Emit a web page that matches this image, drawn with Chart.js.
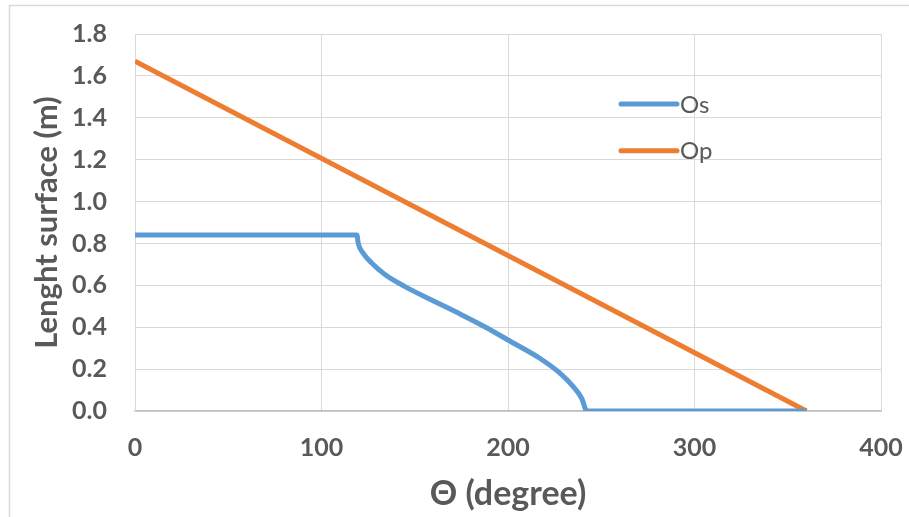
<!DOCTYPE html>
<html>
<head>
<meta charset="utf-8">
<script src="https://cdn.jsdelivr.net/npm/chart.js@4/dist/chart.umd.min.js"></script>
<style>
  html, body { margin: 0; padding: 0; background: #ffffff; overflow: hidden; }
  #wrap { position: relative; width: 909px; height: 517px; }
  canvas { display: block; }
</style>
</head>
<body>
<div id="wrap"><canvas id="c" width="909" height="517"></canvas></div>
<script>
// ---- data ----
const seriesNames = ["Os", "Op"];
const osTheta  = [0, 119, 119.7, 122.4, 126.9, 134, 144.8, 159, 175, 188, 200, 217, 228, 235, 239.5, 242.3, 360];
const osLength = [0.84, 0.84, 0.80, 0.753, 0.707, 0.652, 0.594, 0.53, 0.46, 0.40, 0.339, 0.252, 0.18, 0.116, 0.061, 0, 0];
const opTheta  = [0, 360];
const opLength = [1.67, 0];
const xTicks = [0, 100, 200, 300, 400];
const yTicks = [0, 0.2, 0.4, 0.6, 0.8, 1.0, 1.2, 1.4, 1.6, 1.8];
const xTitle = "Θ (degree)";
const yTitle = "Lenght surface (m)";
const colors = ["#5B9BD5", "#ED7D31"];

const toPts = (xs, ys) => xs.map((x, i) => ({ x: x, y: ys[i] }));

const TEXT = "#595959";
const GRID = "#d9d9d9";
const FONT = "Lato, 'Open Sans', sans-serif";

// legend drawn inside the plot area
const insideLegend = {
  id: "insideLegend",
  afterDraw(chart) {
    const ctx = chart.ctx;
    ctx.save();
    chart.data.datasets.forEach((ds, i) => {
      const y = 104 + i * 46.7;
      ctx.strokeStyle = ds.borderColor;
      ctx.lineWidth = 5;
      ctx.lineCap = "round";
      ctx.beginPath();
      ctx.moveTo(621, y);
      ctx.lineTo(677, y);
      ctx.stroke();
      ctx.fillStyle = TEXT;
      ctx.font = "24px " + FONT;
      ctx.textAlign = "left";
      ctx.textBaseline = "middle";
      ctx.fillText(ds.label, 680, y + 1);
    });
    ctx.restore();
  }
};

// outer light-grey frame (left and top edges visible)
const frame = {
  id: "frame",
  beforeDraw(chart) {
    const ctx = chart.ctx;
    ctx.save();
    ctx.strokeStyle = GRID;
    ctx.lineWidth = 1.5;
    ctx.beginPath();
    ctx.moveTo(9.5, 517);
    ctx.lineTo(9.5, 5.5);
    ctx.lineTo(909, 5.5);
    ctx.stroke();
    ctx.restore();
  }
};

new Chart(document.getElementById("c"), {
  type: "line",
  data: {
    datasets: [
      { label: seriesNames[0], data: toPts(osTheta, osLength), borderColor: colors[0], backgroundColor: colors[0],
        borderWidth: 5, pointRadius: 0, cubicInterpolationMode: "monotone", fill: false },
      { label: seriesNames[1], data: toPts(opTheta, opLength), borderColor: colors[1], backgroundColor: colors[1],
        borderWidth: 5, pointRadius: 0, tension: 0, fill: false }
    ]
  },
  options: {
    responsive: false,
    animation: false,
    events: [],
    layout: { padding: { left: 0, top: 34, right: 28, bottom: 0 } },
    plugins: { legend: { display: false }, tooltip: { enabled: false } },
    scales: {
      x: {
        type: "linear",
        min: xTicks[0], max: xTicks[xTicks.length - 1],
        afterBuildTicks(s) { s.ticks = xTicks.map(v => ({ value: v })); },
        afterFit(s) { s.height = 106; s.paddingLeft = 0; s.paddingRight = 0; },
        ticks: { color: TEXT, font: { family: FONT, size: 25, weight: "bold" }, padding: 22, maxRotation: 0,
                 callback: v => String(v) },
        grid: { color: GRID, lineWidth: 1, drawTicks: false },
        border: { color: "#bfbfbf", width: 1.5 },
        title: { display: true, text: xTitle, color: TEXT, font: { family: FONT, size: 34, weight: "bold" },
                 padding: { top: 0, bottom: 3 } }
      },
      y: {
        type: "linear",
        min: yTicks[0], max: yTicks[yTicks.length - 1],
        afterBuildTicks(s) { s.ticks = yTicks.map(v => ({ value: v })); },
        afterFit(s) { s.width = 135; s.paddingTop = 0; s.paddingBottom = 0; },
        ticks: { color: TEXT, font: { family: FONT, size: 25, weight: "bold" }, padding: 28,
                 callback: v => Number(v).toFixed(1) },
        grid: { color: GRID, lineWidth: 1, drawTicks: false },
        border: { color: GRID, width: 1 },
        title: { display: true, text: yTitle, color: TEXT, font: { family: FONT, size: 31, weight: "bold" },
                 padding: { top: 28, bottom: 0 } }
      }
    }
  },
  plugins: [frame, insideLegend]
});
</script>
</body>
</html>
